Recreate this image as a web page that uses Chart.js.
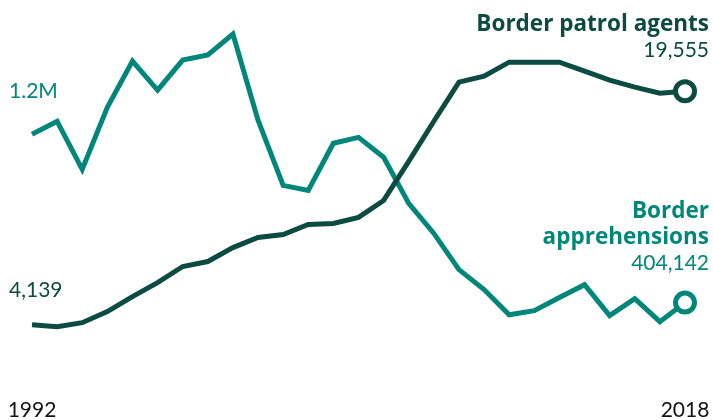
<!DOCTYPE html>
<html lang="en">
<head>
    <meta charset="UTF-8">
    <title>Border patrol agents vs border apprehensions</title>
    <script src="https://cdn.jsdelivr.net/npm/chart.js"></script>
    <style>
        body {
            margin: 0;
            padding: 0;
            background: #fff;
            font-family: Lato, "Open Sans", sans-serif;
        }
        .wrap {
            position: relative;
            width: 713px;
            height: 420px;
        }
        .lbl {
            position: absolute;
            font-size: 21px;
            line-height: 26px;
            white-space: nowrap;
        }
        .dark { color: #0b4b42; }
        .teal { color: #00877a; }
        .bold {
            font-family: "Open Sans", sans-serif;
            font-weight: 700;
            font-size: 22.5px;
        }
        .right { right: 4px; text-align: right; }
    </style>
</head>
<body>
    <div class="wrap">
        <canvas id="chart"></canvas>

        <div class="lbl teal" style="left:9px; top:77px;">1.2M</div>
        <div class="lbl dark" style="left:9px; top:276px;">4,139</div>

        <div class="lbl dark right" style="top:10px;">
            <span class="bold">Border patrol agents</span><br>19,555
        </div>
        <div class="lbl teal right" style="top:197px;">
            <span class="bold">Border<br>apprehensions</span><br>404,142
        </div>
    </div>

    <script>
        // fiscal years 1992 - 2018
        const years = [];
        for (let y = 1992; y <= 2018; y++) years.push(String(y));

        const agents = [4139, 4010, 4270, 5000, 5990, 6920, 7980, 8310, 9230, 9900,
            10090, 10760, 10820, 11220, 12340, 14920, 17570, 20150, 20550, 21470,
            21470, 21470, 20880, 20280, 19820, 19420, 19555];

        const apprehensions = [1199560, 1261000, 1034000, 1327000, 1545000, 1408000,
            1550000, 1574000, 1673000, 1266000, 958000, 934000, 1157000, 1185000,
            1091000, 873000, 731000, 560000, 466000, 347000, 366000, 428000, 489000,
            343000, 423000, 314000, 404142];

        const darkGreen = '#0b4b42';
        const teal = '#00877a';

        // only the end point gets a ring
        const lastOnly = (v) => ctx => ctx.dataIndex === years.length - 1 ? v : 0;

        const ctx = document.getElementById('chart').getContext('2d');
        const chart = new Chart(ctx, {
            type: 'line',
            data: {
                labels: years,
                datasets: [
                    {
                        label: 'Border patrol agents',
                        data: agents,
                        yAxisID: 'yAgents',
                        borderColor: darkGreen,
                        borderWidth: 5,
                        pointRadius: lastOnly(9.5),
                        pointBorderWidth: 5,
                        pointBackgroundColor: '#fff',
                        pointBorderColor: darkGreen,
                        tension: 0,
                        clip: false
                    },
                    {
                        label: 'Border apprehensions',
                        data: apprehensions,
                        yAxisID: 'yAppr',
                        borderColor: teal,
                        borderWidth: 5,
                        pointRadius: lastOnly(9.5),
                        pointBorderWidth: 5,
                        pointBackgroundColor: '#fff',
                        pointBorderColor: teal,
                        tension: 0,
                        clip: false
                    }
                ]
            },
            options: {
                responsive: true,
                maintainAspectRatio: false,
                animation: false,
                layout: {
                    autoPadding: false,
                    padding: { left: 32, right: 28, top: 0, bottom: -6 }
                },
                plugins: {
                    legend: { display: false },
                    tooltip: { enabled: false }
                },
                scales: {
                    x: {
                        grid: { display: false, drawTicks: false },
                        border: { display: false },
                        ticks: {
                            autoSkip: false,
                            maxRotation: 0,
                            padding: 3,
                            color: '#111',
                            font: { family: 'Lato', size: 21 },
                            callback: function (val, i) {
                                return (i === 0 || i === years.length - 1) ? years[i] : '';
                            }
                        }
                    },
                    yAgents: {
                        display: false,
                        min: -490,
                        max: 25575
                    },
                    yAppr: {
                        display: false,
                        min: -31400,
                        max: 1834000
                    }
                }
            }
        });
    </script>
</body>
</html>
